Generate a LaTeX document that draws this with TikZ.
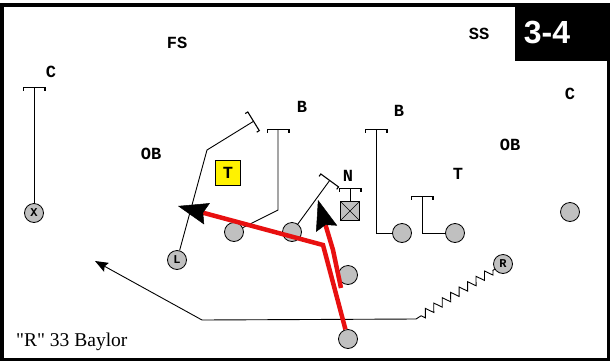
\documentclass[tikz,border=0pt]{standalone}
\usepackage{fontspec}
\setmainfont{Liberation Serif}
\newfontfamily\markfont{Liberation Mono}
\newfontfamily\headfont{Liberation Sans}
\usetikzlibrary{arrows.meta, decorations.pathmorphing}
\definecolor{runred}{RGB}{232,16,16}
\definecolor{chip}{RGB}{192,192,192}

\begin{document}
\begin{tikzpicture}[x=1pt, y=-1pt,
  player/.style={circle, draw, fill=chip, minimum size=19pt, inner sep=0pt, line width=0.8pt,
    font=\markfont\bfseries\fontsize{12}{12}\selectfont},
  dlabel/.style={font=\markfont\bfseries\fontsize{17}{17}\selectfont, inner sep=0pt},
  block/.style={line width=0.9pt, -{Bracket[width=23pt,length=3pt,line width=1.1pt]}},
  run/.style={draw=runred, line width=4.5pt,
    -{Stealth[length=30pt,width=22pt,inset=4pt,line width=0.5pt,color=black]}},
]
  \useasboundingbox (0,0) rectangle (610,362);
  \draw[line width=3.5pt] (2,5) rectangle (608.5,359.5);
  \fill (515,3) rectangle (610,61);
  \node[font=\headfont\bfseries\fontsize{32}{32}\selectfont, text=white, inner sep=0pt] (tag) at (547,33) {3-4};
  \node[font=\fontsize{19.5}{19.5}\selectfont, anchor=west, inner sep=0pt] (title) at (16,342) {\textquotedbl R\textquotedbl{} 33 Baylor};

  % defense
  \node[dlabel] (fs) at (177,43) {FS};
  \node[dlabel] (ss) at (479,34) {SS};
  \node[dlabel] (cl) at (51,72) {C};
  \node[dlabel] (cr) at (570,94) {C};
  \node[dlabel] (bl) at (302,107) {B};
  \node[dlabel] (br) at (399,111) {B};
  \node[dlabel] (obl) at (151,154) {OB};
  \node[dlabel] (obr) at (510,145) {OB};
  \node[dlabel, draw, fill=yellow, minimum size=25pt, line width=0.9pt] (tl) at (228,173) {T};
  \node[dlabel] (n) at (348,176) {N};
  \node[dlabel] (tr) at (458,174) {T};

  % offense
  \node[player] (X) at (34,213) {X};
  \node[player] (L) at (177,260) {L};
  \node[player] (LT) at (234,232) {};
  \node[player] (LG) at (292,232) {};
  \node[draw, fill=chip, minimum size=19pt, inner sep=0pt, line width=0.9pt,
    path picture={\draw[line width=0.6pt] (path picture bounding box.north west) -- (path picture bounding box.south east)
      (path picture bounding box.north east) -- (path picture bounding box.south west);}] (C) at (350,211) {};
  \node[player] (RG) at (402,233) {};
  \node[player] (RT) at (455,233) {};
  \node[player] (Z) at (570,212) {};
  \node[player] (R) at (503,264) {R};
  \node[player, path picture={\fill (path picture bounding box.north) rectangle (path picture bounding box.south east);}] (QB) at (348,275) {};
  \node[player] (RB) at (348,339) {};

  % blocks
  \coordinate (xb) at (34,87);
  \coordinate (lbend) at (207,150);
  \coordinate (lb) at (254,121);
  \coordinate (ltbend) at (278,210);
  \coordinate (ltb) at (278,129);
  \coordinate (lgb) at (330,180);
  \coordinate (cb) at (350,188);
  \coordinate (rgbend) at (376,233);
  \coordinate (rgb) at (376,129);
  \coordinate (rtbend) at (422,233);
  \coordinate (rtb) at (422,196);
  \draw[block] (X) -- (xb);
  \draw[block] (L) -- (lbend) -- (lb);
  \draw[block] (LT) -- (ltbend) -- (ltb);
  \draw[block] (LG) -- (lgb);
  \draw[block] (C) -- (cb);
  \draw[block] (RG) -- (rgbend) -- (rgb);
  \draw[block] (RT) -- (rtbend) -- (rtb);

  % motion and fake
  \coordinate (mot) at (416,319);
  \coordinate (flatbend) at (202,320);
  \coordinate (flat) at (95,261);
  \draw[line width=0.9pt, decorate, decoration={zigzag, segment length=10pt, amplitude=4pt, pre length=2pt, post length=2pt}] (R) -- (mot);
  \draw[line width=0.9pt, -{Stealth[length=13pt,width=10pt,inset=2pt]}] (mot) -- (flatbend) -- (flat);

  % ball carriers
  \coordinate (rbcut) at (323,245);
  \coordinate (rbend) at (178,206);
  \coordinate (qbstart) at (341,288);
  \coordinate (qbcut) at (333,250);
  \coordinate (qbend) at (318,200);
  \draw[run] (RB) -- (rbcut) -- (rbend);
  \draw[run] (qbstart) -- (qbcut) -- (qbend);
\end{tikzpicture}
\end{document}
